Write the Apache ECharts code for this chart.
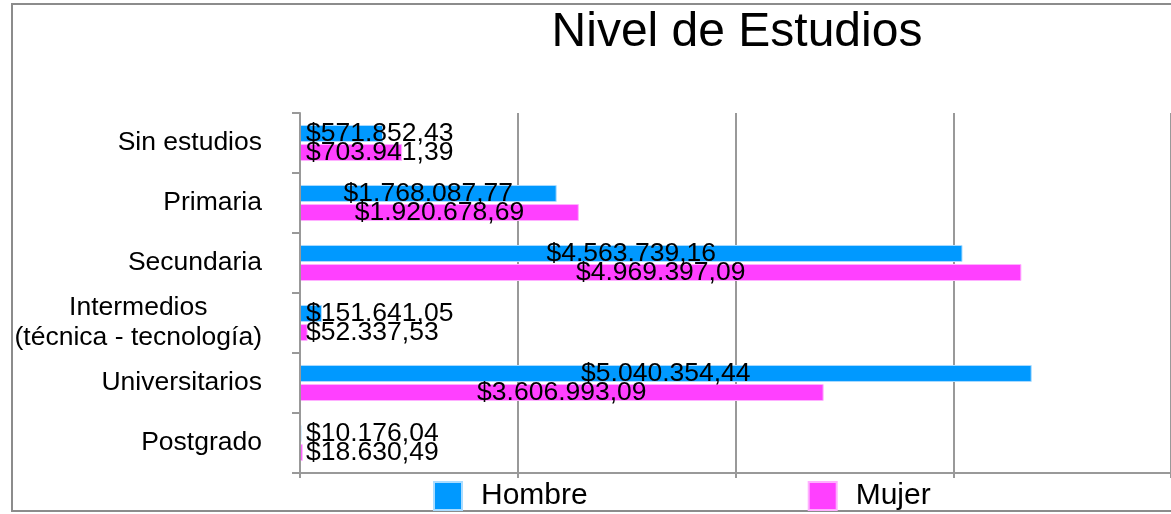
<!DOCTYPE html>
<html style="height: 100%; margin: 0; padding: 0;">
<head>
    <meta charset="utf-8">
    <title>Nivel de Estudios</title>
    <script src="https://cdn.jsdelivr.net/npm/echarts@6/dist/echarts.min.js"></script>
    <style>
        body, html {
            height: 100%;
            margin: 0;
            padding: 0;
            overflow: hidden;
            background-color: #ffffff;
        }
        #main {
            width: 1171px;
            height: 514px;
        }
    </style>
</head>
<body>
<div id="main"></div>
<script type="text/javascript">
    // datos
    var categorias = ['Sin estudios', 'Primaria', 'Secundaria', 'Intermedios\n(técnica - tecnología)', 'Universitarios', 'Postgrado'];
    var hombre = [571852.43, 1768087.77, 4563739.16, 151641.05, 5040354.44, 10176.04];
    var mujer = [703941.39, 1920678.69, 4969397.09, 52337.53, 3606993.09, 18630.49];
    var ticksX = [0, 1500000, 3000000, 4500000, 6000000];

    var fuente = 'Liberation Sans, Arial, sans-serif';

    // formato $1.234.567,89
    function moneda(v) {
        var partes = v.toFixed(2).split('.');
        var entero = partes[0].replace(/\B(?=(\d{3})+(?!\d))/g, '.');
        return '$' + entero + ',' + partes[1];
    }

    // barras cortas: etiqueta desde el inicio de la barra
    function datosBarra(valores) {
        return valores.map(function (v) {
            return {
                value: v,
                label: { position: v < 1000000 ? 'insideLeft' : 'inside', distance: 6 }
            };
        });
    }

    var myChart = echarts.init(document.getElementById('main'));

    var option = {
        animation: false,
        textStyle: { fontFamily: fuente },
        title: {
            text: 'Nivel de Estudios',
            left: 732,
            textAlign: 'center',
            top: 4,
            textStyle: { fontSize: 48, fontWeight: 'normal', color: '#000', fontFamily: fuente }
        },
        legend: {
            data: ['Hombre', 'Mujer'],
            left: 428,
            top: 476,
            icon: 'rect',
            itemWidth: 28,
            itemHeight: 28,
            itemGap: 220,
            textStyle: { fontSize: 30, color: '#000', padding: [0, 0, 0, 14], fontFamily: fuente }
        },
        graphic: [{
            type: 'rect',
            shape: { x: 12, y: 4, width: 1170, height: 507 },
            style: { fill: 'none', stroke: '#8c8c8c', lineWidth: 2 },
            silent: true
        }],
        grid: { left: 300, top: 113, width: 874, height: 360 },
        xAxis: {
            type: 'value',
            min: ticksX[0],
            max: ticksX[ticksX.length - 1],
            interval: ticksX[1] - ticksX[0],
            axisLine: { show: true, lineStyle: { color: '#999', width: 2 } },
            axisTick: { show: true, length: 5, lineStyle: { color: '#999', width: 2 } },
            axisLabel: { show: false },
            splitLine: { show: true, lineStyle: { color: '#999', width: 2 } }
        },
        yAxis: {
            type: 'category',
            data: categorias,
            inverse: true,
            z: 5,
            axisLine: { show: true, lineStyle: { color: '#999', width: 2 } },
            axisTick: { show: true, length: 8, lineStyle: { color: '#999', width: 2 } },
            axisLabel: {
                margin: 38,
                color: '#000',
                fontSize: 26.5,
                formatter: function (v) {
                    return v.split('\n').map(function (l) { return '{c|' + l + '}'; }).join('\n');
                },
                rich: { c: { align: 'center', fontSize: 26.5, lineHeight: 30, color: '#000', fontFamily: fuente } }
            }
        },
        series: [
            {
                name: 'Hombre',
                type: 'bar',
                data: datosBarra(hombre),
                barWidth: 17,
                barGap: '12%',
                itemStyle: { color: '#0099ff', borderColor: '#aadcff', borderWidth: 1 },
                label: { show: true, color: '#000', fontSize: 26.5, formatter: function (p) { return moneda(p.value); } }
            },
            {
                name: 'Mujer',
                type: 'bar',
                data: datosBarra(mujer),
                barWidth: 17,
                barGap: '12%',
                itemStyle: { color: '#ff40ff', borderColor: '#ffb0ff', borderWidth: 1 },
                label: { show: true, color: '#000', fontSize: 26.5, formatter: function (p) { return moneda(p.value); } }
            }
        ]
    };

    myChart.setOption(option);
</script>
</body>
</html>
